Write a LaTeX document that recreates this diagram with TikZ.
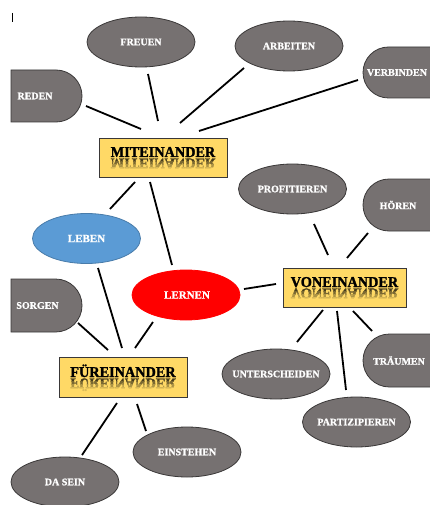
\documentclass[tikz,border=0pt]{standalone}
\usepackage{fontspec}
\setmainfont{Liberation Serif}
\newfontfamily\titlefont[FakeStretch=0.95,FakeBold=1.6]{Liberation Serif}
\newfontfamily\labelfont[FakeBold=1.2]{Liberation Serif}
\usetikzlibrary{shapes.geometric}
\definecolor{grayfill}{HTML}{767171}
\definecolor{grayedge}{HTML}{3A3838}
\definecolor{boxfill}{HTML}{FFD966}
\definecolor{bluefill}{HTML}{5B9BD5}
\definecolor{redfill}{HTML}{FF0000}
\newcommand\reflecttext[3]{%
  \foreach \ya/\yb/\cc in {0/3/72,3/6/52,6/9/32,9/14/14}{%
    \begin{scope}
      \clip (#1-70,#2+\ya) rectangle (#1+70,#2+\yb);
      \begin{scope}[shift={(#1,#2)},yscale=-1]
        \node[titletext, transform shape, anchor=base, text=black!\cc!boxfill] at (0,0) {#3};
      \end{scope}
    \end{scope}}}
\begin{document}
\begin{tikzpicture}[x=1pt,y=-1pt,
  oval/.style={ellipse, draw=grayedge, line width=0.8pt, fill=grayfill,
    minimum width=108pt, minimum height=50pt, inner sep=0pt},
  shapeline/.style={draw=grayedge, line width=0.8pt, fill=grayfill},
  lbl/.style={text=white, inner sep=0pt, font=\labelfont\bfseries\fontsize{10}{10}\selectfont},
  biglbl/.style={text=white, inner sep=0pt, font=\labelfont\bfseries\fontsize{11}{11}\selectfont},
  titlebox/.style={draw=grayedge, line width=0.8pt, fill=boxfill,
    minimum width=128pt, minimum height=39pt, inner sep=0pt},
  titletext/.style={inner sep=0pt, font=\titlefont\bfseries\fontsize{15}{15}\selectfont},
  conn/.style={line width=1.8pt, black}
]
\useasboundingbox (0,0) rectangle (430,505);
\clip (0,0) rectangle (430,505);
\fill[white] (0,0) rectangle (430,505);

% text cursor mark
\draw[line width=0.7pt] (12,13) -- (12,22);

% grey ellipses
\node[oval] (freuen) at (141,42) {};
\node[lbl] (freuent) at (freuen) {FREUEN};
\node[oval] (arbeiten) at (289,46) {};
\node[lbl] (arbeitent) at (arbeiten) {ARBEITEN};
\node[oval] (prof) at (292.5,189) {};
\node[lbl] (proft) at (prof) {PROFITIEREN};
\node[oval] (unter) at (276,374) {};
\node[lbl] (untert) at (unter) {UNTERSCHEIDEN};
\node[oval] (partiz) at (356.5,422) {};
\node[lbl] (partizt) at (partiz) {PARTIZIPIEREN};
\node[oval] (einstehen) at (187,452) {};
\node[lbl] (einstehent) at (einstehen) {EINSTEHEN};
\node[oval] (dasein) at (65,482) {};
\node[lbl] (daseint) at (dasein) {DA SEIN};

% coloured ellipses
\node[oval, fill=bluefill, draw=bluefill!80!black] (leben) at (86.5,238.5) {};
\node[biglbl] (lebent) at (leben) {LEBEN};
\node[oval, fill=redfill, draw=redfill] (lernen) at (186,295) {};
\node[biglbl] (lernent) at (187,295) {LERNEN};

% half-rounded shapes on the left
\draw[shapeline] (11,70) -- (56,70) arc[start angle=-90,end angle=90,radius=26] -- (11,122) -- cycle;
\node[lbl] (redent) at (35,96) {REDEN};
\draw[shapeline] (11,279) -- (55.5,279) arc[start angle=-90,end angle=90,radius=26.5] -- (11,332) -- cycle;
\node[lbl] (sorgent) at (37.5,305.5) {SORGEN};

% rounded shapes cut by the right edge
\draw[shapeline] (440,47) -- (388.5,47) arc[start angle=-90,end angle=-270,radius=25.5] -- (440,98) -- cycle;
\node[lbl] (verbindent) at (397,72.5) {VERBINDEN};
\draw[shapeline] (440,179) -- (389,179) arc[start angle=-90,end angle=-270,radius=26] -- (440,231) -- cycle;
\node[lbl] (horent) at (398,205) {HÖREN};
\draw[shapeline] (440,334) -- (389.5,334) arc[start angle=-90,end angle=-270,radius=26.5] -- (440,387) -- cycle;
\node[lbl] (traument) at (399,360.5) {TRÄUMEN};

% title boxes
\node[titlebox] (mit) at (163,157.5) {};
\node[titletext, anchor=base] (mitt) at (163,157) {MITEINANDER};
\reflecttext{163}{158.5}{MITEINANDER}
\node[titlebox, minimum height=40pt] (fur) at (123,377) {};
\node[titletext, anchor=base] (furt) at (123,377) {FÜREINANDER};
\reflecttext{123}{378.5}{FÜREINANDER}
\node[titlebox, minimum width=123pt] (von) at (344.5,287.5) {};
\node[titletext, anchor=base] (vont) at (344.5,287) {VONEINANDER};
\reflecttext{344.5}{288.5}{VONEINANDER}

% connectors
\draw[conn] ([shift={(51,10)}]redent.center) -- ([shift={(-22,-28.5)}]mit.center);
\draw[conn] ([shift={(7,32)}]freuen.center) -- ([shift={(-5,-36.5)}]mit.center);
\draw[conn] ([shift={(-45,22)}]arbeiten.center) -- ([shift={(17,-34.5)}]mit.center);
\draw[conn] ([shift={(-39,7.5)}]verbindent.center) -- ([shift={(36,-26.5)}]mit.center);
\draw[conn] ([shift={(-28,24.5)}]mit.center) -- ([shift={(23.5,-29.5)}]leben.center);
\draw[conn] ([shift={(-13,24.5)}]mit.center) -- ([shift={(-14,-30)}]lernen.center);
\draw[conn] ([shift={(11.5,29.5)}]leben.center) -- ([shift={(-1,-29)}]fur.center);
\draw[conn] ([shift={(40.5,17.5)}]sorgent.center) -- ([shift={(-15,-27)}]fur.center);
\draw[conn] ([shift={(-33,27)}]lernen.center) -- ([shift={(12,-29)}]fur.center);
\draw[conn] ([shift={(58,-6)}]lernen.center) -- ([shift={(-68.5,-3.5)}]von.center);
\draw[conn] ([shift={(21.5,35)}]prof.center) -- ([shift={(-16.5,-32.5)}]von.center);
\draw[conn] ([shift={(-30,28)}]horent.center) -- ([shift={(2.5,-29.5)}]von.center);
\draw[conn] ([shift={(-21.5,22.5)}]von.center) -- ([shift={(21,-32)}]unter.center);
\draw[conn] ([shift={(-7.5,23.5)}]von.center) -- ([shift={(-10.5,-32)}]partiz.center);
\draw[conn] ([shift={(8.5,23.5)}]von.center) -- ([shift={(-27,-29.5)}]traument.center);
\draw[conn] ([shift={(-6,26)}]fur.center) -- ([shift={(17,-27)}]dasein.center);
\draw[conn] ([shift={(14,27)}]fur.center) -- ([shift={(-41,-21)}]einstehen.center);
\end{tikzpicture}
\end{document}
